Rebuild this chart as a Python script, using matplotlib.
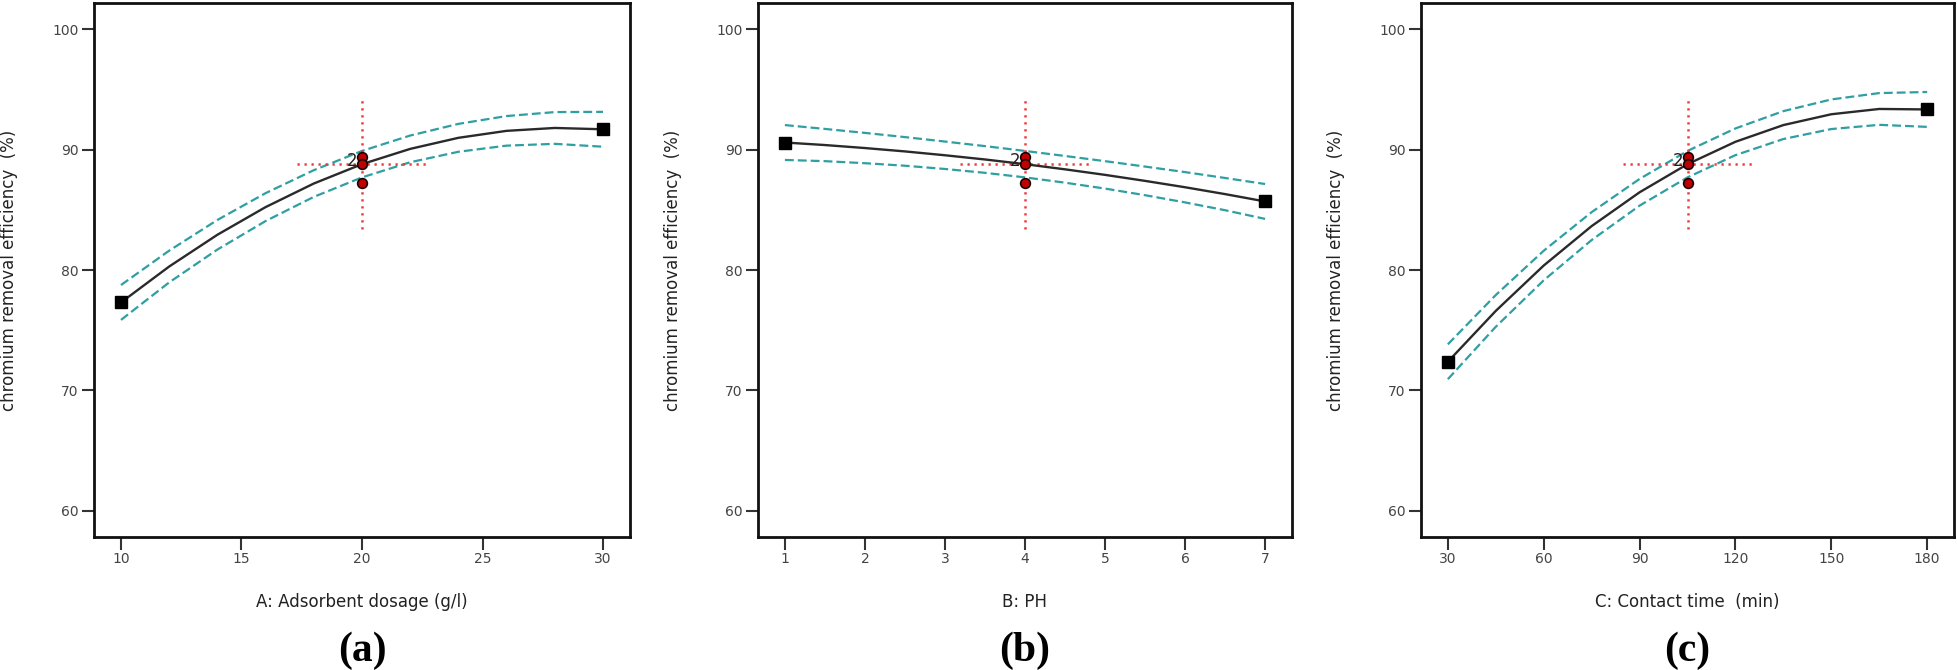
import numpy as np
import matplotlib.pyplot as plt

# one-factor plots, predicted response + 95% band
xa = [10, 12, 14, 16, 18, 20, 22, 24, 26, 28, 30]
fit_a = [77.30, 80.29, 82.93, 85.23, 87.19, 88.80, 90.07, 90.99, 91.57, 91.81, 91.70]
hi_a = [78.75, 81.61, 84.16, 86.39, 88.30, 89.90, 91.18, 92.15, 92.80, 93.13, 93.15]
lo_a = [75.85, 78.97, 81.70, 84.07, 86.08, 87.70, 88.96, 89.83, 90.34, 90.49, 90.25]

xb = [1, 1.5, 2, 2.5, 3, 3.5, 4, 4.5, 5, 5.5, 6, 6.5, 7]
fit_b = [90.60, 90.39, 90.14, 89.86, 89.54, 89.19, 88.80, 88.37, 87.91, 87.41, 86.88, 86.31, 85.70]
hi_b = [92.05, 91.73, 91.40, 91.05, 90.68, 90.30, 89.90, 89.48, 89.05, 88.60, 88.14, 87.65, 87.15]
lo_b = [89.15, 89.05, 88.88, 88.67, 88.40, 88.08, 87.70, 87.26, 86.77, 86.22, 85.62, 84.97, 84.25]

xc = [30, 45, 60, 75, 90, 105, 120, 135, 150, 165, 180]
fit_c = [72.37, 76.60, 80.37, 83.65, 86.46, 88.80, 90.66, 92.05, 92.95, 93.39, 93.35]
hi_c = [73.82, 77.92, 81.60, 84.81, 87.57, 89.90, 91.77, 93.21, 94.18, 94.71, 94.80]
lo_c = [70.92, 75.28, 79.14, 82.49, 85.35, 87.70, 89.55, 90.89, 91.72, 92.07, 91.90]

center_x = [20, 4, 105]           # centre level of each factor
center_pts = [89.4, 88.8, 87.2]   # centre point runs
center_y = 88.8
center_y_range = [83.4, 94.3]
center_count = '2'

xticks_a = [10, 15, 20, 25, 30]
xticks_b = [1, 2, 3, 4, 5, 6, 7]
xticks_c = [30, 60, 90, 120, 150, 180]
yticks = [60, 70, 80, 90, 100]

xlabels = ['A: Adsorbent dosage (g/l)', 'B: PH', 'C: Contact time  (min)']
ylabel = 'chromium removal efficiency  (%)'
panel_tags = ['(a)', '(b)', '(c)']

W, H = 1958, 670
fig = plt.figure(figsize=(W / 100, H / 100), dpi=100)
boxes = [(94, 536), (758, 534), (1421, 533)]  # left, width in px
top, bot = 3, 537

panels = [(xa, fit_a, hi_a, lo_a, xticks_a),
          (xb, fit_b, hi_b, lo_b, xticks_b),
          (xc, fit_c, hi_c, lo_c, xticks_c)]

teal = '#2f9fa2'
red = '#f03a3a'

for i, (x, fit, hi, lo, xt) in enumerate(panels):
    left, wid = boxes[i]
    ax = fig.add_axes([left / W, (H - bot) / H, wid / W, (bot - top) / H])
    x = np.array(x)
    span = x[-1] - x[0]
    ax.set_xlim(x[0] - 0.056 * span, x[-1] + 0.056 * span)
    ax.set_ylim(57.8, 102.2)

    ax.plot(x, hi, color=teal, lw=1.6, dashes=(4, 1.8), zorder=2)
    ax.plot(x, lo, color=teal, lw=1.6, dashes=(4, 1.8), zorder=2)
    ax.plot(x, fit, color='#2a2a2a', lw=1.7, zorder=3)

    cx = center_x[i]
    hw = 0.135 * span
    ax.plot([cx - hw, cx + hw], [center_y, center_y], color=red, lw=1.8,
            dashes=(0.9, 1.9), zorder=2.5)
    ax.plot([cx, cx], center_y_range, color=red, lw=1.8, dashes=(0.9, 1.9), zorder=2.5)

    ax.plot(x[[0, -1]], [fit[0], fit[-1]], 's', color='black', ms=9, zorder=5)
    ax.plot([cx] * len(center_pts), center_pts, 'o', mfc='#c00000', mec='#1a0000',
            mew=1.2, ms=7, zorder=6)
    ax.annotate(center_count, (cx, center_pts[0]), xytext=(-3, -3),
                textcoords='offset points', ha='right', va='center',
                fontsize=12, color='#222222', zorder=7)

    ax.set_xticks(xt)
    ax.set_yticks(yticks)
    ax.tick_params(direction='out', length=9, width=1.5, color='#333333',
                   labelsize=10, labelcolor='#444444', pad=2)
    for s in ax.spines.values():
        s.set_linewidth(2)
        s.set_color('#111111')

    ax.set_xlabel(xlabels[i], fontsize=12, color='#222222')
    ax.xaxis.set_label_coords(0.5, -0.105)
    ax.set_ylabel(ylabel, fontsize=12, color='#222222')
    ax.yaxis.set_label_coords(-0.142, 0.5)

    fig.text((left + wid / 2) / W, 19 / H, panel_tags[i], ha='center', va='center',
             fontsize=30, fontweight='bold', family='Liberation Serif')

fig.savefig('out.png', dpi=100, facecolor='white')
